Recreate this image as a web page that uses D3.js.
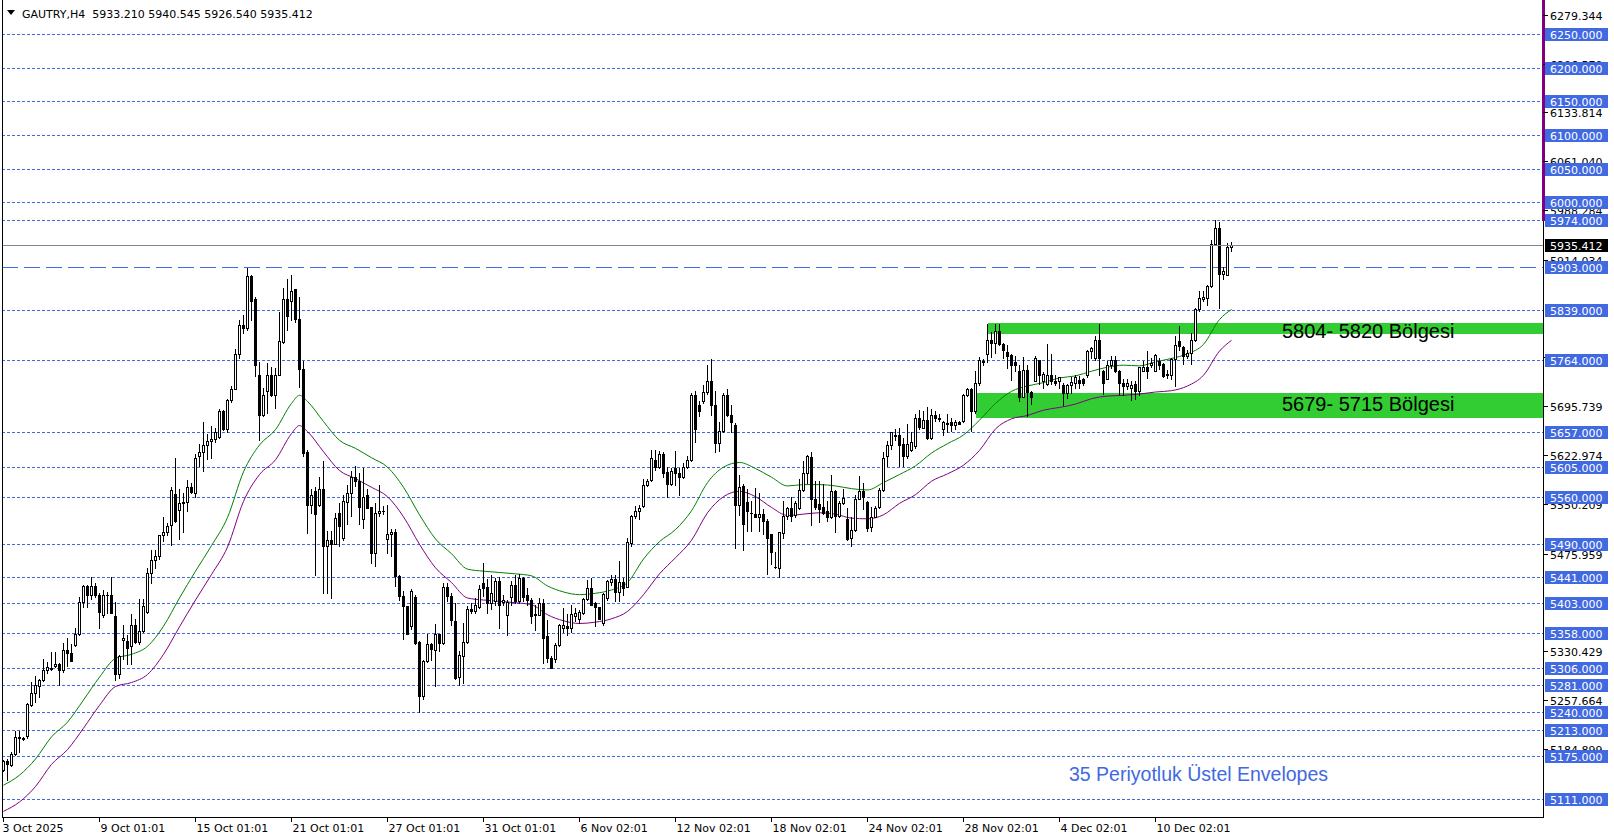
<!DOCTYPE html>
<html><head><meta charset="utf-8">
<script src="https://cdn.jsdelivr.net/npm/d3@7"></script>
<style>html,body{margin:0;padding:0;background:#fff;}svg{display:block;}</style>
</head><body>
<svg id="c" width="1614" height="840"></svg>
<script>
// ---------- DATA ----------
const symbolTitle = "GAUTRY,H4  5933.210 5940.545 5926.540 5935.412";
const opens = [
5154,5167,5161,5178,5203,5201,5204,5250,5268,5279,
5288,5302,5304,5309,5311,5302,5332,5328,5340,5357,
5404,5428,5415,5428,5415,5384,5415,5415,5383,5297,
5347,5346,5338,5370,5345,5361,5389,5447,5466,5473,
5504,5509,5519,5565,5541,5551,5553,5575,5567,5622,
5628,5638,5644,5647,5650,5689,5662,5705,5722,5773,
5817,5812,5890,5855,5743,5682,5718,5743,5712,5743,
5791,5856,5852,5870,5826,5752,5627,5549,5569,5548,
5573,5488,5496,5491,5536,5500,5553,5566,5591,5584,
5527,5563,5546,5477,5536,5540,5498,5506,5508,5443,
5413,5398,5368,5412,5344,5264,5316,5341,5332,5357,
5343,5426,5413,5376,5292,5323,5344,5394,5390,5397,
5433,5426,5403,5406,5435,5404,5384,5411,5430,5405,
5440,5414,5407,5384,5385,5402,5353,5321,5319,5340,
5365,5368,5365,5383,5378,5388,5409,5425,5402,5396,
5372,5410,5434,5439,5419,5434,5427,5492,5532,5540,
5547,5579,5586,5616,5605,5624,5598,5580,5604,5596,
5590,5605,5616,5713,5698,5703,5717,5734,5698,5641,
5659,5712,5682,5668,5548,5577,5553,5537,5535,5531,
5535,5525,5505,5456,5455,5507,5532,5544,5534,5544,
5571,5596,5620,5557,5550,5545,5539,5531,5569,5532,
5551,5527,5499,5511,5558,5570,5553,5516,5531,5545,
5571,5622,5638,5653,5653,5640,5622,5631,5637,5678,
5664,5676,5648,5682,5677,5662,5670,5672,5668,5672,
5674,5713,5721,5688,5730,5763,5773,5794,5790,5808,
5788,5776,5772,5762,5749,5710,5750,5717,5734,5764,
5733,5729,5743,5733,5734,5727,5716,5728,5731,5735,
5736,5742,5778,5768,5795,5749,5737,5757,5765,5749,
5731,5726,5723,5729,5719,5749,5754,5758,5749,5763,
5759,5742,5743,5766,5793,5784,5770,5775,5795,5840,
5855,5857,5875,5938,5962,5893,5892,5933.21];
const highs = [
5168,5170,5180,5212,5212,5203,5253,5285,5293,5290,
5319,5314,5330,5330,5313,5343,5350,5342,5365,5412,
5429,5429,5441,5432,5417,5422,5419,5441,5404,5325,
5369,5355,5386,5378,5408,5408,5455,5481,5481,5504,
5530,5522,5575,5618,5572,5566,5586,5581,5625,5639,
5673,5655,5666,5663,5691,5690,5707,5726,5781,5825,
5832,5902,5891,5858,5761,5723,5760,5755,5753,5836,
5872,5886,5892,5870,5859,5763,5630,5572,5575,5591,
5614,5510,5510,5537,5551,5564,5579,5599,5606,5597,
5604,5572,5546,5551,5578,5547,5548,5513,5513,5445,
5421,5398,5423,5414,5346,5317,5356,5343,5371,5357,
5432,5432,5417,5403,5331,5373,5398,5403,5410,5430,
5462,5438,5445,5440,5442,5415,5407,5435,5444,5446,
5442,5425,5410,5400,5410,5409,5377,5323,5343,5371,
5395,5386,5400,5395,5392,5410,5437,5440,5404,5397,
5417,5437,5445,5445,5465,5440,5499,5534,5547,5548,
5588,5588,5631,5631,5629,5628,5605,5604,5629,5604,
5611,5621,5716,5718,5703,5728,5758,5766,5718,5673,
5716,5721,5698,5671,5594,5580,5572,5555,5574,5567,
5542,5527,5506,5478,5509,5555,5546,5560,5555,5587,
5614,5623,5627,5584,5585,5580,5555,5594,5571,5555,
5572,5544,5530,5563,5592,5581,5555,5545,5547,5574,
5627,5644,5658,5662,5664,5649,5670,5657,5684,5690,
5689,5694,5691,5689,5684,5674,5684,5678,5675,5674,
5714,5723,5723,5748,5769,5766,5818,5807,5818,5818,
5790,5787,5773,5770,5758,5769,5758,5718,5770,5765,
5747,5788,5773,5743,5740,5731,5729,5739,5743,5741,
5738,5780,5784,5800,5818,5750,5763,5770,5770,5750,
5736,5736,5733,5733,5755,5763,5778,5768,5773,5768,
5760,5750,5768,5800,5815,5785,5779,5805,5842,5868,
5868,5877,5943,5974,5971,5904,5939,5940.545];
const lows = [
5152,5139,5160,5176,5180,5198,5202,5249,5255,5262,
5286,5298,5303,5307,5280,5300,5309,5316,5339,5355,
5397,5397,5409,5412,5366,5382,5387,5387,5288,5291,
5319,5311,5311,5343,5342,5359,5388,5432,5455,5468,
5495,5504,5489,5524,5498,5509,5540,5566,5560,5607,
5600,5617,5619,5642,5649,5661,5657,5702,5721,5768,
5805,5810,5825,5741,5645,5681,5685,5711,5693,5742,
5790,5809,5825,5821,5725,5621,5507,5537,5445,5547,
5417,5417,5410,5490,5488,5497,5521,5532,5577,5520,
5515,5544,5462,5457,5532,5535,5477,5472,5428,5407,
5349,5356,5364,5341,5240,5260,5315,5318,5279,5331,
5341,5405,5369,5289,5281,5283,5343,5388,5388,5395,
5413,5388,5393,5400,5366,5400,5355,5400,5402,5402,
5406,5400,5373,5363,5384,5313,5315,5305,5315,5339,
5360,5355,5360,5375,5373,5386,5407,5400,5368,5378,
5370,5407,5430,5406,5406,5415,5427,5488,5529,5527,
5546,5577,5585,5601,5603,5591,5560,5578,5578,5563,
5589,5604,5614,5643,5681,5701,5714,5682,5628,5629,
5658,5681,5658,5485,5534,5481,5510,5510,5530,5510,
5505,5446,5460,5455,5441,5500,5527,5525,5530,5542,
5569,5582,5519,5542,5523,5535,5525,5529,5509,5530,
5550,5496,5488,5510,5557,5542,5510,5510,5530,5544,
5570,5607,5632,5645,5607,5606,5619,5629,5634,5662,
5663,5647,5647,5674,5674,5653,5657,5659,5662,5669,
5673,5711,5659,5686,5728,5758,5762,5769,5775,5787,
5768,5753,5735,5748,5703,5709,5681,5699,5733,5729,
5723,5728,5729,5727,5723,5697,5708,5716,5723,5723,
5728,5739,5768,5764,5743,5714,5736,5753,5747,5714,
5712,5721,5705,5706,5713,5748,5738,5754,5748,5752,
5739,5738,5737,5726,5779,5759,5768,5759,5793,5838,
5853,5847,5873,5937,5842,5886,5891,5926.54];
const closes = [
5167,5162,5178,5203,5201,5200,5252,5268,5280,5288,
5302,5307,5306,5312,5302,5332,5328,5316,5357,5404,
5428,5415,5428,5414,5389,5415,5414,5388,5297,5323,
5351,5336,5370,5345,5361,5398,5447,5466,5473,5504,
5509,5518,5571,5525,5551,5553,5575,5568,5618,5627,
5638,5644,5647,5657,5689,5662,5705,5722,5773,5817,
5812,5890,5852,5757,5682,5712,5743,5712,5743,5793,
5856,5830,5868,5826,5752,5626,5549,5564,5535,5573,
5488,5496,5491,5529,5517,5554,5566,5591,5584,5546,
5560,5544,5477,5536,5540,5540,5506,5508,5443,5413,
5398,5357,5421,5343,5264,5316,5341,5334,5357,5343,
5427,5413,5377,5291,5325,5344,5394,5390,5399,5424,
5425,5403,5418,5435,5400,5407,5404,5430,5405,5440,
5412,5407,5383,5386,5402,5350,5321,5306,5340,5369,
5369,5365,5386,5387,5389,5409,5425,5400,5396,5379,
5416,5435,5439,5419,5434,5425,5493,5532,5540,5544,
5579,5585,5618,5605,5624,5597,5580,5599,5596,5591,
5605,5616,5712,5662,5689,5717,5734,5698,5641,5659,
5712,5682,5673,5548,5575,5521,5539,5536,5531,5535,
5525,5500,5478,5456,5508,5532,5544,5532,5551,5571,
5596,5622,5557,5545,5543,5537,5531,5569,5532,5551,
5559,5498,5511,5558,5570,5560,5515,5531,5544,5571,
5618,5638,5657,5652,5638,5622,5640,5642,5678,5665,
5676,5648,5683,5678,5678,5672,5671,5668,5672,5670,
5712,5721,5688,5731,5764,5762,5794,5790,5808,5788,
5779,5770,5758,5758,5710,5750,5717,5709,5768,5743,
5744,5743,5733,5731,5739,5716,5728,5732,5739,5731,
5731,5778,5782,5795,5768,5731,5757,5765,5749,5731,
5726,5730,5727,5718,5754,5754,5749,5760,5772,5757,
5741,5744,5766,5787,5785,5770,5775,5795,5840,5857,
5858,5875,5938,5962,5893,5897,5933,5935.412];

// envelope (35-period exponential) read at these bar indices
const envBars = [0,4,8,12,16,20,24,28,32,36,40,44,48,52,56,60,64,68,72,74,76,80,84,88,92,96,100,104,108,112,116,120,124,128,132,136,140,144,148,152,156,160,164,168,172,176,180,184,188,192,196,200,204,208,212,216,220,224,228,232,236,240,244,248,252,256,260,264,268,272,276,280,284,288,292,296,300,304,307];
const envUpper = [5131,5146,5170,5203,5225,5258,5292,5320,5326,5338,5368,5410,5450,5488,5530,5598,5638,5661,5700,5712,5703,5673,5645,5633,5619,5605,5575,5534,5498,5476,5453,5450,5448,5446,5443,5428,5419,5415,5417,5422,5433,5468,5494,5512,5540,5582,5605,5612,5603,5590,5577,5579,5579,5577,5573,5571,5582,5594,5607,5626,5640,5653,5675,5700,5718,5726,5731,5738,5741,5748,5754,5757,5756,5762,5767,5774,5788,5825,5840];
const envLower = [5092,5106,5129,5162,5184,5216,5250,5278,5284,5296,5326,5367,5407,5445,5486,5554,5594,5616,5655,5667,5658,5628,5600,5588,5575,5561,5531,5490,5455,5433,5410,5407,5405,5403,5400,5385,5376,5372,5374,5379,5390,5415,5446,5470,5496,5537,5561,5569,5561,5545,5533,5535,5537,5535,5529,5528,5534,5551,5564,5584,5595,5608,5630,5662,5677,5682,5690,5694,5699,5707,5711,5712,5714,5717,5719,5726,5742,5778,5794];

const timeLabels = ["3 Oct 2025","9 Oct 01:01","15 Oct 01:01","21 Oct 01:01","27 Oct 01:01","31 Oct 01:01","6 Nov 02:01","12 Nov 02:01","18 Nov 02:01","24 Nov 02:01","28 Nov 02:01","4 Dec 02:01","10 Dec 02:01"];
const timeLabelBars = [0,24,48,72,96,120,144,168,192,216,240,264,288];

const levelLines = [6250,6200,6150,6100,6050,6000,5974,5903,5839,5764,5657,5605,5560,5490,5441,5403,5358,5306,5281,5240,5213,5175,5111];
const longDashLevel = 5903;
// scale tick labels that remain (partly) visible beside the level labels
const priceTicks = [6279.344,6206.570,6133.814,6061.040,5988.284,5914.034,5768.504,5695.739,5622.974,5550.209,5475.959,5330.429,5257.664,5184.899];
const lastPrice = 5935.412;

const zoneLows = [5804,5679];
const zoneHighs = [5820,5715];
const zoneStartBars = [246,243];
const zoneLabels = ["5804- 5820 Bölgesi","5679- 5715 Bölgesi"];
const indicatorNote = "35 Periyotluk Üstel Envelopes";

// ---------- LAYOUT ----------
const plotL = 2, plotR = 1543, plotB = 817;
const svg = d3.select('#c');
const x = d3.scaleLinear().domain([0, 1]).range([3.5, 7.5]);
const y = d3.scaleLinear().domain([5111, 6250]).range([798.6, 34.4]);
const ry = v => Math.round(y(v)) + 0.5;
const BLUE = "#4169E1";
const FONT = "'DejaVu Sans', sans-serif";

svg.append('rect').attr('width',1614).attr('height',840).attr('fill','#fff');

const plot = svg.append('g');
// zones
zoneLows.forEach((lo,k)=>{
  const x0 = Math.round(x(zoneStartBars[k])) ;
  plot.append('rect')
    .attr('x', x0).attr('y', Math.round(y(zoneHighs[k])))
    .attr('width', plotR - x0).attr('height', Math.round(y(lo)) - Math.round(y(zoneHighs[k])))
    .attr('fill', '#32CD32');
});

// level lines
levelLines.forEach(v=>{
  plot.append('line').attr('x1',plotL).attr('x2',plotR).attr('y1',ry(v)).attr('y2',ry(v))
    .attr('stroke',BLUE).attr('stroke-width',1)
    .attr('stroke-dasharray', v===longDashLevel ? '16,6' : '3,2');
});

// envelope lines
const envLine = d3.line().x(d=>x(d[0])).y(d=>y(d[1])).curve(d3.curveMonotoneX);
plot.append('path').datum(envBars.map((b,i)=>[b,envUpper[i]]))
  .attr('d',envLine).attr('fill','none').attr('stroke','#008000').attr('stroke-width',1);
plot.append('path').datum(envBars.map((b,i)=>[b,envLower[i]]))
  .attr('d',envLine).attr('fill','none').attr('stroke','#800080').attr('stroke-width',1);

// candles
const cg = plot.append('g');
opens.forEach((o,i)=>{
  const c = closes[i], h = highs[i], l = lows[i];
  const cx = Math.round(x(i)-0.5)+0.5;
  cg.append('line').attr('x1',cx).attr('x2',cx)
    .attr('y1',Math.round(y(h))).attr('y2',Math.round(y(l))+1)
    .attr('stroke','#000').attr('stroke-width',1);
  const top = Math.round(y(Math.max(o,c))), bot = Math.round(y(Math.min(o,c)));
  if (bot - top < 1) {
    cg.append('line').attr('x1',cx-1.5).attr('x2',cx+1.5).attr('y1',top+0.5).attr('y2',top+0.5)
      .attr('stroke','#000');
  } else if (c >= o) {
    cg.append('rect').attr('x',cx-1).attr('y',top+0.5).attr('width',2).attr('height',bot-top)
      .attr('fill','#fff').attr('stroke','#000').attr('stroke-width',1);
  } else {
    cg.append('rect').attr('x',cx-1.5).attr('y',top).attr('width',3).attr('height',bot-top+1)
      .attr('fill','#000');
  }
});

// current price line
plot.append('line').attr('x1',plotL).attr('x2',plotR).attr('y1',ry(lastPrice)).attr('y2',ry(lastPrice))
  .attr('stroke','#778899').attr('stroke-width',1);

// zone labels
zoneLabels.forEach((t,k)=>{
  svg.append('text').attr('x',1282).attr('y', y(zoneLows[k]) + (k===0? 4.5 : -6.5))
    .attr('font-family',"'Liberation Sans', Arial, sans-serif").attr('font-size',20)
    .attr('fill','#000').text(t);
});
svg.append('text').attr('x',1069).attr('y',781)
  .attr('font-family',"'Liberation Sans', Arial, sans-serif").attr('font-size',19.5)
  .attr('fill',BLUE).text(indicatorNote);

// frame
svg.append('line').attr('x1',plotL+0.5).attr('x2',plotL+0.5).attr('y1',0).attr('y2',plotB+1).attr('stroke','#000');
svg.append('line').attr('x1',plotR+0.5).attr('x2',plotR+0.5).attr('y1',0).attr('y2',plotB+1).attr('stroke','#000');
svg.append('line').attr('x1',plotL).attr('x2',plotR+1).attr('y1',plotB+0.5).attr('y2',plotB+0.5).attr('stroke','#000');

// purple marker on axis
svg.append('line').attr('x1',plotR+0.5).attr('x2',plotR+0.5).attr('y1',0).attr('y2',221)
  .attr('stroke','#800080').attr('stroke-width',3);

// right axis ticks & labels
const axisG = svg.append('g');
priceTicks.forEach(v=>{
  axisG.append('line').attr('x1',plotR).attr('x2',plotR+5).attr('y1',ry(v)).attr('y2',ry(v)).attr('stroke','#000');
  axisG.append('text').attr('x',1550).attr('y',Math.round(y(v))+4.5)
    .attr('font-family',FONT).attr('font-size',11).attr('fill','#000').text(d3.format('.3f')(v));
});
levelLines.forEach(v=>{
  const yc = Math.round(y(v));
  axisG.append('rect').attr('x',1545).attr('y',yc-6).attr('width',63).attr('height',13).attr('fill',BLUE);
  axisG.append('text').attr('x',1550).attr('y',yc+4.5)
    .attr('font-family',FONT).attr('font-size',11).attr('fill','#fff').text(d3.format('.3f')(v));
});
{
  const yc = Math.round(y(lastPrice));
  axisG.append('rect').attr('x',1545).attr('y',yc-6).attr('width',63).attr('height',13).attr('fill','#000');
  axisG.append('text').attr('x',1550).attr('y',yc+4.5)
    .attr('font-family',FONT).attr('font-size',11).attr('fill','#fff').text(d3.format('.3f')(lastPrice));
}

// bottom axis
timeLabelBars.forEach((b,k)=>{
  const tx = Math.round(x(b)-0.5)+0.5;
  svg.append('line').attr('x1',tx).attr('x2',tx).attr('y1',plotB).attr('y2',plotB+5).attr('stroke','#000');
  svg.append('text').attr('x',tx+ (k===0?-1:1)).attr('y',832)
    .attr('font-family',FONT).attr('font-size',11).attr('fill','#000').text(timeLabels[k]);
});

// header
svg.append('path').attr('d','M7,10 L15,10 L11,15 Z').attr('fill','#000');
svg.append('text').attr('x',22).attr('y',17.5).attr('font-family',FONT).attr('font-size',11)
  .attr('fill','#000').attr('xml:space','preserve').style('white-space','pre').text(symbolTitle);
</script>
</body></html>
